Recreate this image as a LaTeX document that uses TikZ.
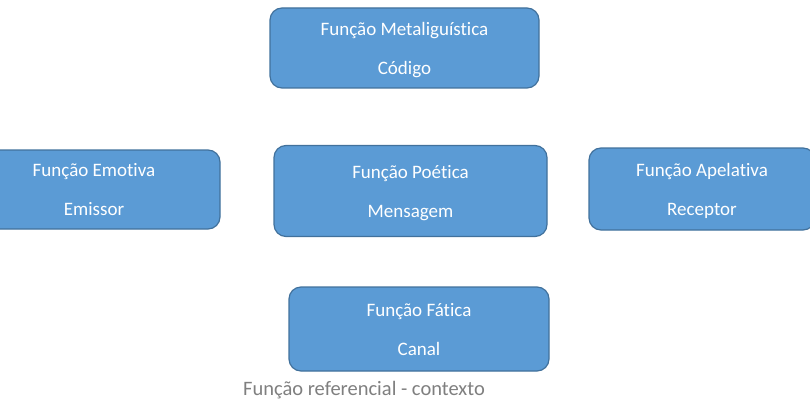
\documentclass[tikz,border=0pt]{standalone}
\usepackage{fontspec}
\setmainfont{Carlito}[Ligatures=CommonOff]
\usepackage{tikz}

\definecolor{boxfill}{HTML}{5B9BD5}
\definecolor{boxline}{HTML}{41719C}
\definecolor{reftext}{HTML}{7F7F7F}

\tikzset{
  funcbox/.style={draw=boxline, line width=1.2pt, fill=boxfill, rounded corners=12pt,
    text=white, align=center, inner sep=0pt, text depth=0pt,
    font=\fontsize{19}{23}\selectfont},
}

\begin{document}
\begin{tikzpicture}[x=1pt,y=-1pt]
\useasboundingbox (0,0) rectangle (810,417);
\clip (0,0) rectangle (810,417);
\node[funcbox, minimum width=269pt, minimum height=80pt] (meta) at (404.5,48)
  {Função Metaliguística\\[16pt]Código};
\node[funcbox, minimum width=252pt, minimum height=79pt] (emot) at (94,189.5)
  {Função Emotiva\\[16pt]Emissor};
\node[funcbox, minimum width=273pt, minimum height=91pt] (poet) at (410.5,191)
  {Função Poética\\[16pt]Mensagem};
\node[funcbox, minimum width=226pt, minimum height=82pt] (apel) at (702,189)
  {Função Apelativa\\[16pt]Receptor};
\node[funcbox, minimum width=260pt, minimum height=84pt] (fati) at (419,329)
  {Função Fática\\[16pt]Canal};
\node[text=reftext, font=\fontsize{20.5}{24}\selectfont] (refe) at (364,390)
  {Função referencial - contexto};
\end{tikzpicture}
\end{document}
